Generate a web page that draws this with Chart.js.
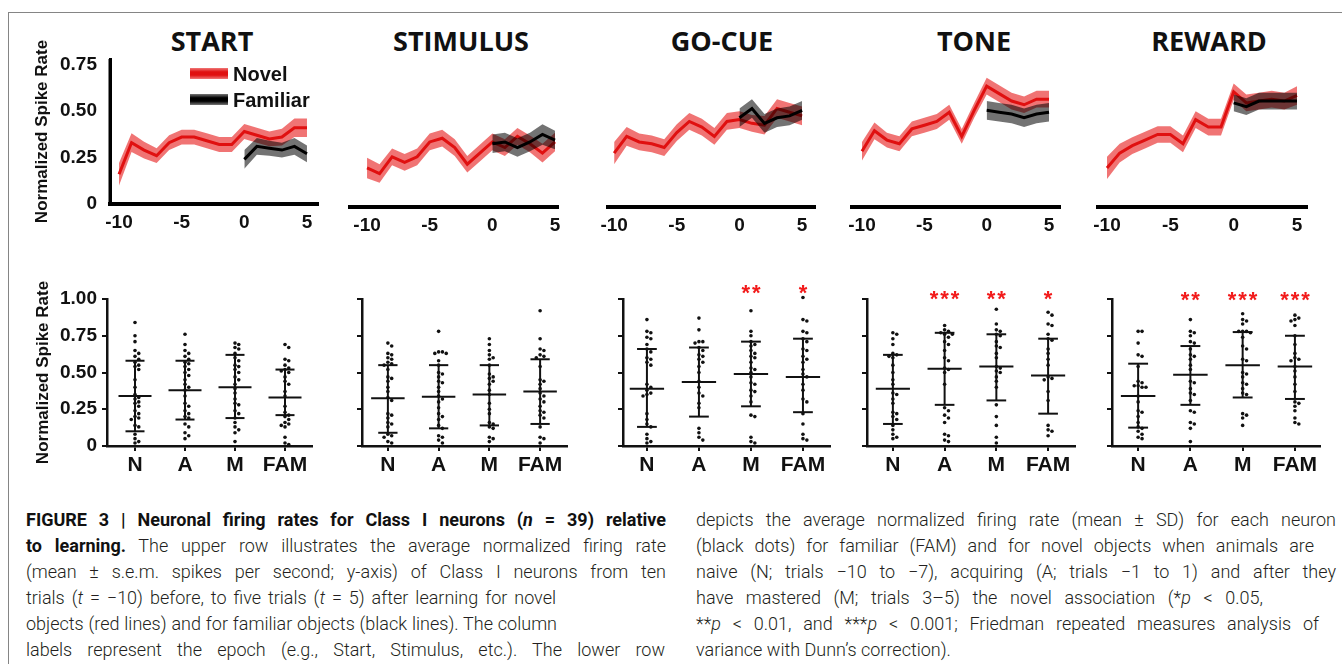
<!DOCTYPE html>
<html>
<head>
<meta charset="utf-8">
<script src="https://cdn.jsdelivr.net/npm/chart.js@4.4.1/dist/chart.umd.min.js"></script>
<style>
  body { margin: 0; background: #fff; }
  #fig { position: relative; width: 1342px; height: 664px; overflow: hidden; font-family: 'Liberation Sans', Arial, sans-serif; color: #111; }
  #fig canvas { position: absolute; }
  .frame { position: absolute; left: 8px; top: 12px; width: 1400px; height: 700px; border-left: 1.5px solid #858585; border-top: 1.5px solid #858585; }
  .ttl { position: absolute; top: 26px; font: 700 27px 'Open Sans', sans-serif; line-height: 30px; transform: translateX(-50%); white-space: nowrap; color: #111; }
  .leg { position: absolute; font: 700 20px 'Liberation Sans', Arial, sans-serif; line-height: 20px; white-space: nowrap; }
  .bar { position: absolute; width: 38px; height: 11px; }
  .cap { position: absolute; font: 300 18px Roboto, sans-serif; line-height: 26px; color: #231f20; white-space: nowrap; }
  .cap b { font-weight: 700; color: #111; }
</style>
</head>
<body>
<div id="fig">
  <div class="frame"></div>

  <div class="ttl" style="left:212px">START</div>
  <div class="ttl" style="left:461px">STIMULUS</div>
  <div class="ttl" style="left:722px">GO-CUE</div>
  <div class="ttl" style="left:974px">TONE</div>
  <div class="ttl" style="left:1209px">REWARD</div>

  <canvas id="top0" width="298" height="201" style="left:32px;top:33px"></canvas>
  <canvas id="top1" width="234" height="187" style="left:336px;top:50px"></canvas>
  <canvas id="top2" width="234" height="187" style="left:593px;top:50px"></canvas>
  <canvas id="top3" width="234" height="187" style="left:838px;top:50px"></canvas>
  <canvas id="top4" width="235" height="187" style="left:1084px;top:50px"></canvas>

  <div class="bar" style="left:190px;top:68px;background:linear-gradient(#f07878,#e01010 35%,#e01010 65%,#f07878)"></div>
  <div class="leg" style="left:233px;top:64px">Novel</div>
  <div class="bar" style="left:190px;top:94px;background:linear-gradient(#777,#000 35%,#000 65%,#777)"></div>
  <div class="leg" style="left:233px;top:90px">Familiar</div>

  <canvas id="bot0" width="289" height="205" style="left:33px;top:275px"></canvas>
  <canvas id="bot1" width="225" height="205" style="left:352px;top:275px"></canvas>
  <canvas id="bot2" width="227" height="205" style="left:613px;top:275px"></canvas>
  <canvas id="bot3" width="228" height="205" style="left:857px;top:275px"></canvas>
  <canvas id="bot4" width="228" height="205" style="left:1102px;top:275px"></canvas>

  <div id="caption"></div>
</div>

<script>
// trial axis of the upper row
const trials = [-10, -9, -8, -7, -6, -5, -4, -3, -2, -1, 0, 1, 2, 3, 4, 5];
const famTrials = [0, 1, 2, 3, 4, 5];
const topXTicks = [-10, -5, 0, 5];
const topXLabels = ['-10', '-5', '0', '5'];
const topYTicks = [0, 0.25, 0.5, 0.75];
const topYLabels = ['0', '0.25', '0.50', '0.75'];

// upper row: mean and s.e.m. (novel from t=-10, familiar from t=0)
const startNovel = [0.16, 0.33, 0.29, 0.26, 0.33, 0.36, 0.36, 0.34, 0.32, 0.32, 0.39, 0.37, 0.35, 0.36, 0.41, 0.41];
const startNovelSem = [0.06, 0.05, 0.045, 0.04, 0.04, 0.04, 0.04, 0.04, 0.04, 0.04, 0.04, 0.04, 0.04, 0.045, 0.05, 0.05];
const startFam = [0.24, 0.31, 0.30, 0.29, 0.31, 0.27];
const startFamSem = [0.05, 0.045, 0.04, 0.04, 0.045, 0.045];

const stimNovel = [0.21, 0.18, 0.27, 0.24, 0.27, 0.35, 0.37, 0.32, 0.23, 0.29, 0.35, 0.32, 0.38, 0.34, 0.29, 0.35];
const stimNovelSem = [0.055, 0.05, 0.045, 0.045, 0.045, 0.045, 0.045, 0.045, 0.045, 0.045, 0.045, 0.045, 0.045, 0.045, 0.05, 0.05];
const stimFam = [0.34, 0.35, 0.32, 0.35, 0.39, 0.36];
const stimFamSem = [0.05, 0.05, 0.05, 0.05, 0.055, 0.05];

const goNovel = [0.29, 0.38, 0.35, 0.34, 0.32, 0.40, 0.46, 0.43, 0.38, 0.46, 0.47, 0.45, 0.44, 0.53, 0.51, 0.49];
const goNovelSem = [0.06, 0.05, 0.045, 0.045, 0.045, 0.045, 0.045, 0.045, 0.045, 0.045, 0.045, 0.045, 0.05, 0.05, 0.05, 0.05];
const goFam = [0.48, 0.53, 0.45, 0.48, 0.49, 0.52];
const goFamSem = [0.05, 0.05, 0.05, 0.05, 0.05, 0.05];

const toneNovel = [0.30, 0.41, 0.36, 0.34, 0.42, 0.44, 0.46, 0.51, 0.38, 0.52, 0.65, 0.61, 0.57, 0.55, 0.58, 0.58];
const toneNovelSem = [0.05, 0.045, 0.04, 0.04, 0.04, 0.04, 0.04, 0.04, 0.04, 0.04, 0.045, 0.045, 0.045, 0.045, 0.045, 0.045];
const toneFam = [0.52, 0.51, 0.50, 0.48, 0.50, 0.51];
const toneFamSem = [0.05, 0.05, 0.05, 0.05, 0.05, 0.05];

const rewNovel = [0.21, 0.29, 0.33, 0.36, 0.39, 0.39, 0.34, 0.47, 0.43, 0.43, 0.62, 0.56, 0.57, 0.58, 0.57, 0.60];
const rewNovelSem = [0.06, 0.05, 0.045, 0.045, 0.045, 0.045, 0.045, 0.045, 0.045, 0.045, 0.045, 0.045, 0.045, 0.045, 0.045, 0.05];
const rewFam = [0.56, 0.54, 0.57, 0.57, 0.57, 0.57];
const rewFamSem = [0.045, 0.045, 0.045, 0.045, 0.045, 0.045];

// lower row: categories and ticks
const groupLabels = ['N', 'A', 'M', 'FAM'];
const lowYTicks = [0, 0.25, 0.5, 0.75, 1];
const lowYLabels = ['0', '0.25', '0.50', '0.75', '1.00'];

// lower row: per-neuron rates, mean line, SD bar ends, significance stars
const startN = [0.84, 0.75, 0.71, 0.65, 0.63, 0.61, 0.59, 0.57, 0.55, 0.54, 0.52, 0.45, 0.40, 0.35, 0.33, 0.32, 0.30, 0.29, 0.27, 0.24, 0.22, 0.20, 0.19, 0.18, 0.14, 0.13, 0.08, 0.05, 0.03, 0.02];
const startA = [0.76, 0.69, 0.65, 0.63, 0.61, 0.59, 0.57, 0.56, 0.54, 0.52, 0.50, 0.48, 0.45, 0.42, 0.40, 0.38, 0.34, 0.29, 0.27, 0.24, 0.22, 0.20, 0.19, 0.15, 0.13, 0.09, 0.07, 0.05];
const startM = [0.70, 0.69, 0.67, 0.66, 0.63, 0.60, 0.58, 0.55, 0.54, 0.52, 0.50, 0.47, 0.45, 0.42, 0.39, 0.36, 0.32, 0.29, 0.28, 0.24, 0.22, 0.19, 0.16, 0.13, 0.11, 0.09, 0.03];
const startFAM = [0.69, 0.67, 0.59, 0.58, 0.55, 0.53, 0.52, 0.51, 0.50, 0.47, 0.44, 0.42, 0.37, 0.34, 0.27, 0.23, 0.21, 0.20, 0.18, 0.16, 0.15, 0.14, 0.13, 0.06, 0.02, 0.01];
const startMean = [0.34, 0.38, 0.40, 0.33];
const startLo = [0.10, 0.18, 0.19, 0.21];
const startHi = [0.58, 0.58, 0.62, 0.52];
const startStars = ['', '', '', ''];

const stimN = [0.70, 0.68, 0.63, 0.62, 0.60, 0.59, 0.57, 0.56, 0.55, 0.52, 0.47, 0.46, 0.44, 0.40, 0.37, 0.33, 0.31, 0.22, 0.21, 0.19, 0.16, 0.15, 0.13, 0.08, 0.07, 0.06, 0.03, 0.02];
const stimA = [0.78, 0.64, 0.64, 0.63, 0.63, 0.58, 0.55, 0.50, 0.49, 0.47, 0.44, 0.43, 0.40, 0.37, 0.34, 0.32, 0.30, 0.26, 0.22, 0.20, 0.18, 0.14, 0.12, 0.07, 0.06, 0.04, 0.02];
const stimM = [0.73, 0.69, 0.65, 0.62, 0.60, 0.59, 0.55, 0.49, 0.47, 0.46, 0.44, 0.42, 0.38, 0.35, 0.29, 0.25, 0.22, 0.16, 0.15, 0.13, 0.12, 0.06, 0.05, 0.03];
const stimFAM = [0.92, 0.73, 0.66, 0.65, 0.62, 0.61, 0.60, 0.54, 0.45, 0.44, 0.42, 0.39, 0.36, 0.34, 0.32, 0.30, 0.27, 0.24, 0.23, 0.21, 0.19, 0.13, 0.06, 0.05, 0.02];
const stimMean = [0.325, 0.335, 0.35, 0.37];
const stimLo = [0.09, 0.12, 0.14, 0.15];
const stimHi = [0.55, 0.55, 0.55, 0.59];
const stimStars = ['', '', '', ''];

const goN = [0.86, 0.78, 0.77, 0.74, 0.73, 0.69, 0.66, 0.64, 0.60, 0.59, 0.57, 0.55, 0.42, 0.40, 0.38, 0.36, 0.35, 0.34, 0.22, 0.18, 0.15, 0.13, 0.08, 0.05, 0.03, 0.02];
const goA = [0.87, 0.79, 0.71, 0.71, 0.70, 0.67, 0.65, 0.62, 0.61, 0.59, 0.57, 0.54, 0.50, 0.44, 0.40, 0.36, 0.34, 0.29, 0.26, 0.12, 0.09, 0.06, 0.04];
const goM = [0.92, 0.78, 0.75, 0.71, 0.69, 0.68, 0.65, 0.63, 0.61, 0.60, 0.57, 0.53, 0.52, 0.50, 0.47, 0.43, 0.42, 0.38, 0.37, 0.34, 0.30, 0.21, 0.20, 0.06, 0.03, 0.02];
const goFAM = [1.01, 0.86, 0.85, 0.78, 0.77, 0.73, 0.71, 0.66, 0.65, 0.61, 0.59, 0.57, 0.52, 0.49, 0.47, 0.42, 0.38, 0.32, 0.30, 0.22, 0.15, 0.08, 0.05, 0.04];
const goMean = [0.39, 0.435, 0.49, 0.47];
const goLo = [0.13, 0.20, 0.27, 0.23];
const goHi = [0.66, 0.67, 0.71, 0.73];
const goStars = ['', '', '**', '*'];

const toneN = [0.77, 0.76, 0.73, 0.69, 0.63, 0.62, 0.61, 0.60, 0.55, 0.50, 0.45, 0.42, 0.36, 0.35, 0.32, 0.29, 0.23, 0.22, 0.20, 0.18, 0.14, 0.11, 0.08, 0.06, 0.05];
const toneA = [0.82, 0.79, 0.78, 0.77, 0.76, 0.76, 0.74, 0.71, 0.69, 0.65, 0.60, 0.58, 0.53, 0.52, 0.50, 0.42, 0.26, 0.24, 0.21, 0.19, 0.16, 0.08, 0.07, 0.04, 0.03];
const toneM = [0.93, 0.83, 0.79, 0.78, 0.76, 0.75, 0.71, 0.68, 0.67, 0.63, 0.60, 0.54, 0.53, 0.51, 0.50, 0.47, 0.44, 0.40, 0.28, 0.20, 0.14, 0.06, 0.02];
const toneFAM = [0.91, 0.89, 0.83, 0.82, 0.76, 0.73, 0.72, 0.66, 0.63, 0.59, 0.55, 0.47, 0.46, 0.45, 0.37, 0.31, 0.14, 0.11, 0.10, 0.07];
const toneMean = [0.39, 0.525, 0.54, 0.48];
const toneLo = [0.15, 0.28, 0.31, 0.22];
const toneHi = [0.62, 0.77, 0.76, 0.73];
const toneStars = ['', '***', '**', '*'];

const rewN = [0.78, 0.78, 0.70, 0.62, 0.61, 0.54, 0.44, 0.43, 0.41, 0.41, 0.40, 0.40, 0.34, 0.30, 0.24, 0.23, 0.20, 0.16, 0.13, 0.12, 0.10, 0.08, 0.06, 0.05];
const rewA = [0.86, 0.78, 0.77, 0.75, 0.71, 0.70, 0.66, 0.62, 0.61, 0.59, 0.55, 0.52, 0.44, 0.43, 0.39, 0.36, 0.35, 0.31, 0.24, 0.23, 0.16, 0.15, 0.12, 0.03];
const rewM = [0.90, 0.86, 0.85, 0.83, 0.78, 0.78, 0.78, 0.77, 0.74, 0.68, 0.66, 0.59, 0.58, 0.50, 0.49, 0.47, 0.43, 0.42, 0.39, 0.36, 0.35, 0.22, 0.21, 0.19, 0.14];
const rewFAM = [0.89, 0.87, 0.86, 0.85, 0.82, 0.75, 0.69, 0.63, 0.60, 0.59, 0.58, 0.54, 0.51, 0.47, 0.42, 0.37, 0.30, 0.29, 0.27, 0.24, 0.19, 0.16, 0.15];
const rewMean = [0.34, 0.485, 0.55, 0.54];
const rewLo = [0.125, 0.28, 0.33, 0.32];
const rewHi = [0.56, 0.68, 0.775, 0.75];
const rewStars = ['', '**', '***', '***'];

const boldFont = size => ({ family: "'Liberation Sans', Arial, sans-serif", size: size, weight: 'bold' });
const bareGrid = { display: true, drawOnChartArea: false, drawTicks: false, color: 'rgba(0,0,0,0)' };

// vertical axis line of the first upper panel
const yAxisLine = {
    id: 'yAxisLine',
    afterDraw(chart) {
        const a = chart.chartArea, ctx = chart.ctx;
        ctx.save();
        ctx.strokeStyle = '#000';
        ctx.lineWidth = 3;
        ctx.beginPath();
        ctx.moveTo(a.left, a.top);
        ctx.lineTo(a.left, a.bottom + 2);
        ctx.stroke();
        ctx.restore();
    }
};

function topChart(id, novel, novelSem, fam, famSem, xmin, xmax, showY) {
    const pts = (xs, ys) => xs.map((x, i) => ({ x: x, y: ys[i] }));
    const hi = (ys, e) => ys.map((y, i) => y + e[i]);
    const lo = (ys, e) => ys.map((y, i) => y - e[i]);
    new Chart(document.getElementById(id), {
        type: 'line',
        data: {
            datasets: [
                { data: pts(trials, hi(novel, novelSem)), borderWidth: 0, pointRadius: 0, fill: false, order: 5 },
                { data: pts(trials, lo(novel, novelSem)), borderWidth: 0, pointRadius: 0, fill: '-1', backgroundColor: 'rgba(230,30,30,0.62)', order: 4 },
                { data: pts(trials, novel), borderColor: '#e01010', borderWidth: 3, pointRadius: 0, fill: false, order: 3 },
                { data: pts(famTrials, hi(fam, famSem)), borderWidth: 0, pointRadius: 0, fill: false, order: 2 },
                { data: pts(famTrials, lo(fam, famSem)), borderWidth: 0, pointRadius: 0, fill: '-1', backgroundColor: 'rgba(0,0,0,0.55)', order: 1 },
                { data: pts(famTrials, fam), borderColor: '#000', borderWidth: 3, pointRadius: 0, fill: false, order: 0 }
            ]
        },
        options: {
            responsive: false,
            animation: false,
            events: [],
            layout: { padding: { top: showY ? 26 : 12, right: 12, bottom: 0, left: showY ? 0 : 14 } },
            plugins: { legend: { display: false }, tooltip: { enabled: false } },
            scales: {
                x: {
                    type: 'linear', min: xmin, max: xmax,
                    afterBuildTicks: s => { s.ticks = topXTicks.map(v => ({ value: v })); },
                    afterFit: s => { s.height = 30; },
                    grid: bareGrid,
                    border: { display: true, color: '#000', width: 4 },
                    ticks: { padding: 7, color: '#111', font: boldFont(19), maxRotation: 0, autoSkip: false,
                             callback: (v, i) => topXLabels[i] }
                },
                y: {
                    display: showY, min: 0, max: 0.78,
                    afterBuildTicks: s => { s.ticks = topYTicks.map(v => ({ value: v })); },
                    afterFit: s => { s.width = showY ? 78 : 0; },
                    grid: bareGrid,
                    border: { display: true, color: '#000', width: 3 },
                    ticks: { padding: 13, color: '#111', font: boldFont(19), callback: (v, i) => topYLabels[i] },
                    title: { display: true, text: 'Normalized Spike Rate', padding: 0, color: '#111', font: boldFont(17) }
                }
            }
        },
        plugins: showY ? [yAxisLine] : []
    });
}

// simple beeswarm offsets so dots of similar value sit side by side
function swarm(groups) {
    const out = [];
    groups.forEach((vals, g) => {
        const placed = [];
        vals.forEach(v => {
            let off = 0;
            for (let k = 0; k < 20; k++) {
                off = (k % 2 ? 1 : -1) * Math.ceil(k / 2) * 0.075;
                if (!placed.some(p => Math.abs(p.v - v) < 0.028 && Math.abs(p.o - off) < 0.07)) break;
            }
            placed.push({ v: v, o: off });
            out.push({ x: g + off, y: v });
        });
    });
    return out;
}

function errorBars(mean, lo, hi, stars, starY) {
    return {
        id: 'errbars',
        afterDatasetsDraw(chart) {
            const ctx = chart.ctx;
            const x = chart.scales.x, y = chart.scales.y;
            ctx.save();
            ctx.strokeStyle = '#111';
            ctx.lineWidth = 2;
            const seg = (x0, y0, x1, y1) => { ctx.beginPath(); ctx.moveTo(x0, y0); ctx.lineTo(x1, y1); ctx.stroke(); };
            mean.forEach((m, i) => {
                const cx = x.getPixelForValue(i);
                const hw = x.getPixelForValue(i + 0.33) - cx;
                const cw = x.getPixelForValue(i + 0.19) - cx;
                seg(cx - hw, y.getPixelForValue(m), cx + hw, y.getPixelForValue(m));
                seg(cx, y.getPixelForValue(lo[i]), cx, y.getPixelForValue(hi[i]));
                seg(cx - cw, y.getPixelForValue(lo[i]), cx + cw, y.getPixelForValue(lo[i]));
                seg(cx - cw, y.getPixelForValue(hi[i]), cx + cw, y.getPixelForValue(hi[i]));
            });
            ctx.fillStyle = '#f21a1a';
            ctx.font = "bold 22px 'Liberation Sans', Arial, sans-serif";
            ctx.textAlign = 'center';
            ctx.textBaseline = 'middle';
            stars.forEach((s, i) => {
                const cx = x.getPixelForValue(i);
                for (let k = 0; k < s.length; k++) {
                    ctx.fillText('*', cx + (k - (s.length - 1) / 2) * 10.5, y.getPixelForValue(starY) + 5);
                }
            });
            ctx.restore();
        }
    };
}

function bottomChart(id, groups, mean, lo, hi, stars, starY, xmin, xmax, first) {
    new Chart(document.getElementById(id), {
        type: 'scatter',
        data: { datasets: [{ data: swarm(groups), pointRadius: 1.8, pointBackgroundColor: '#111', pointBorderWidth: 0, clip: 6 }] },
        options: {
            responsive: false,
            animation: false,
            events: [],
            layout: { padding: { top: 24, right: 10, bottom: 0, left: 0 } },
            plugins: { legend: { display: false }, tooltip: { enabled: false } },
            scales: {
                x: {
                    type: 'linear', min: xmin, max: xmax,
                    afterBuildTicks: s => { s.ticks = [0, 1, 2, 3].map(v => ({ value: v })); },
                    afterFit: s => { s.height = 34; },
                    grid: { display: true, drawOnChartArea: false, drawTicks: true, tickLength: 5, lineWidth: 2, color: '#111' },
                    border: { display: true, color: '#111', width: 2.5 },
                    ticks: { padding: 2, color: '#111', font: boldFont(21), maxRotation: 0, autoSkip: false,
                             callback: (v, i) => groupLabels[i] }
                },
                y: {
                    min: 0, max: 1,
                    afterBuildTicks: s => { s.ticks = lowYTicks.map(v => ({ value: v })); },
                    afterFit: s => { s.width = first ? 74 : 10; },
                    grid: { display: true, drawOnChartArea: false, drawTicks: true, tickLength: 5, lineWidth: 2, color: '#111' },
                    border: { display: true, color: '#111', width: 2.5 },
                    ticks: { display: first, padding: 5, color: '#111', font: boldFont(19), callback: (v, i) => lowYLabels[i] },
                    title: { display: first, text: 'Normalized Spike Rate', padding: 0, color: '#111', font: boldFont(17) }
                }
            }
        },
        plugins: [errorBars(mean, lo, hi, stars, starY)]
    });
}

topChart('top0', startNovel, startNovelSem, startFam, startFamSem, -10.72, 5.88, true);
topChart('top1', stimNovel, stimNovelSem, stimFam, stimFamSem, -11.36, 5.24, false);
topChart('top2', goNovel, goNovelSem, goFam, goFamSem, -10.48, 6.03, false);
topChart('top3', toneNovel, toneNovelSem, toneFam, toneFamSem, -10.8, 5.88, false);
topChart('top4', rewNovel, rewNovelSem, rewFam, rewFamSem, -10.71, 5.79, false);

bottomChart('bot0', [startN, startA, startM, startFAM], startMean, startLo, startHi, startStars, 1.05, -0.56, 3.54, true);
bottomChart('bot1', [stimN, stimA, stimM, stimFAM], stimMean, stimLo, stimHi, stimStars, 1.05, -0.51, 3.53, false);
bottomChart('bot2', [goN, goA, goM, goFAM], goMean, goLo, goHi, goStars, 1.07, -0.46, 3.52, false);
bottomChart('bot3', [toneN, toneA, toneM, toneFAM], toneMean, toneLo, toneHi, toneStars, 1.03, -0.50, 3.52, false);
bottomChart('bot4', [rewN, rewA, rewM, rewFAM], rewMean, rewLo, rewHi, rewStars, 1.02, -0.50, 3.48, false);

// caption, two columns; each line is stretched to the measured line width
const capLeft = [
    ['<b>FIGURE 3 | Neuronal firing rates for Class I neurons (<i>n</i> = 39) relative</b>', 640],
    ['<b>to learning.</b> The upper row illustrates the average normalized firing rate', 640],
    ['(mean ± s.e.m. spikes per second; y-axis) of Class I neurons from ten', 640],
    ['trials (<i>t</i> = −10) before, to five trials (<i>t</i> = 5) after learning for novel', 530],
    ['objects (red lines) and for familiar objects (black lines). The column', 531],
    ['labels represent the epoch (e.g., Start, Stimulus, etc.). The lower row', 639]
];
const capRight = [
    ['depicts the average normalized firing rate (mean ± SD) for each neuron', 640],
    ['(black dots) for familiar (FAM) and for novel objects when animals are', 618],
    ['naive (N; trials −10 to −7), acquiring (A; trials −1 to 1) and after they', 640],
    ['have mastered (M; trials 3–5) the novel association (*<i>p</i> &lt; 0.05,', 567],
    ['**<i>p</i> &lt; 0.01, and ***<i>p</i> &lt; 0.001; Friedman repeated measures analysis of', 623],
    ['variance with Dunn’s correction).', 0]
];
const capBox = document.getElementById('caption');
function addLines(lines, left) {
    lines.forEach((ln, i) => {
        const d = document.createElement('div');
        d.className = 'cap';
        d.style.left = left + 'px';
        d.style.top = (507 + i * 26) + 'px';
        d.innerHTML = ln[0];
        capBox.appendChild(d);
        if (ln[1]) {
            const nat = d.getBoundingClientRect().width;
            const spaces = (d.textContent.match(/ /g) || []).length;
            d.style.wordSpacing = ((ln[1] - nat) / spaces) + 'px';
        }
    });
}
addLines(capLeft, 26);
addLines(capRight, 696);
</script>
</body>
</html>
